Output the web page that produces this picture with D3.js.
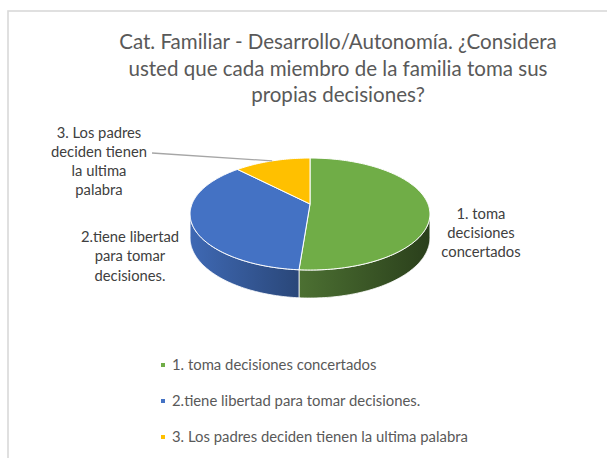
<!DOCTYPE html>
<html>
<head>
<meta charset="utf-8">
<script src="https://cdn.jsdelivr.net/npm/d3@7"></script>
<style>
  html, body { margin: 0; padding: 0; background: #ffffff; }
  svg { display: block; }
</style>
</head>
<body>
<svg id="chart" width="607" height="458"></svg>
<script>
// ---- data ----
const categories = [
  "1. toma decisiones concertados",
  "2.tiene libertad para tomar decisiones.",
  "3. Los padres deciden tienen la ultima palabra"
];
const values = [21, 15, 5];
const titleLines = [
  "Cat. Familiar - Desarrollo/Autonomía. ¿Considera",
  "usted que cada miembro de la familia toma sus",
  "propias decisiones?"
];
const labelLines = [
  ["1. toma", "decisiones", "concertados"],
  ["2.tiene libertad", "para tomar", "decisiones."],
  ["3. Los padres", "deciden tienen", "la ultima", "palabra"]
];
const colors = ["#70AD47", "#4472C4", "#FFC000"];
const sideColors = [["#4C7032", "#2A3F1B"], ["#3F69B4", "#2A4779"], ["#C79600", "#8A6800"]];

const FONT = "Lato, 'Open Sans', sans-serif";
const svg = d3.select("#chart");

// measure helper to match Calibri-like widths
function fitSize(text, target) {
  const t = svg.append("text").attr("font-family", FONT).attr("font-size", 100).text(text);
  const w = t.node().getComputedTextLength();
  t.remove();
  return 100 * target / w;
}

// frame
svg.append("rect").attr("x", 8).attr("y", 11).attr("width", 700).attr("height", 500)
  .attr("fill", "#fff").attr("stroke", "#D9D9D9").attr("stroke-width", 1.6);

// title
const titleSize = fitSize(titleLines[0], 438);
const title = svg.append("text").attr("font-family", FONT).attr("font-size", titleSize)
  .attr("fill", "#595959").attr("text-anchor", "middle");
titleLines.forEach((l, i) => {
  title.append("tspan").attr("x", 338).attr("y", 49 + i * 26.5).text(l);
});

// ---- 3D pie with perspective ----
const cx = 310, cy = 204, rx = 118, ry = 54.2, persp = 0.179, depth = 23;
function proj(theta, z) {
  const u = Math.sin(theta), v = -Math.cos(theta);
  const s = 1 / (1 - persp * v);
  return [cx + rx * u * s, cy + ry * v * s + z * s];
}
const arcs = d3.pie().sort(null).value(d => d)(values);

const defs = svg.append("defs");
sideColors.forEach((c, i) => {
  const g = defs.append("linearGradient").attr("id", "side" + i)
    .attr("x1", "0%").attr("x2", "100%").attr("y1", "0%").attr("y2", "0%");
  g.append("stop").attr("offset", "0%").attr("stop-color", c[0]);
  g.append("stop").attr("offset", "100%").attr("stop-color", c[1]);
});

const silA = Math.acos(-persp), silB = 2 * Math.PI - Math.acos(-persp);
function samples(a, b) {
  const n = Math.max(2, Math.ceil(Math.abs(b - a) / 0.02));
  return d3.range(n + 1).map(k => a + (b - a) * k / n);
}
const line = d3.line();

// side walls
arcs.forEach((d, i) => {
  const a = Math.max(d.startAngle, silA), b = Math.min(d.endAngle, silB);
  if (b <= a) return;
  const top = samples(a, b).map(t => proj(t, 0));
  const bot = samples(a, b).reverse().map(t => proj(t, depth));
  svg.append("path").attr("d", line(top.concat(bot)) + "Z")
    .attr("fill", `url(#side${i})`).attr("stroke", "#ffffff").attr("stroke-width", 0.8)
    .attr("stroke-linejoin", "round");
});

// top faces
arcs.forEach((d, i) => {
  const pts = [[cx, cy]].concat(samples(d.startAngle, d.endAngle).map(t => proj(t, 0)));
  svg.append("path").attr("d", line(pts) + "Z")
    .attr("fill", colors[i]).attr("stroke", "#ffffff").attr("stroke-width", 1)
    .attr("stroke-linejoin", "round");
});

// data labels
const labelSize = fitSize("deciden tienen", 96);
const labelPos = [[481, 219, 19], [130, 242, 19.3], [99, 138, 19]];
labelLines.forEach((lines, i) => {
  const t = svg.append("text").attr("font-family", FONT).attr("font-size", labelSize)
    .attr("fill", "#404040").attr("text-anchor", "middle");
  lines.forEach((l, j) => {
    t.append("tspan").attr("x", labelPos[i][0]).attr("y", labelPos[i][1] + j * labelPos[i][2]).text(l);
  });
});

// leader line for slice 3
const y3 = arcs[2];
const mid3 = (y3.startAngle + y3.endAngle) / 2;
const end3 = proj(mid3, 0);
svg.append("path").attr("d", line([[152, 153], end3]))
  .attr("stroke", "#A6A6A6").attr("stroke-width", 1.3).attr("fill", "none");

// legend
const legSize = fitSize(categories[2], 296);
const legY = d3.scalePoint().domain(categories).range([365, 437]);
categories.forEach((c, i) => {
  const y = legY(c);
  svg.append("rect").attr("x", 161).attr("y", y - 2).attr("width", 4).attr("height", 4).attr("fill", colors[i]);
  svg.append("text").attr("x", 172).attr("y", y + legSize * 0.35)
    .attr("font-family", FONT).attr("font-size", legSize).attr("fill", "#595959").text(c);
});
</script>
</body>
</html>
